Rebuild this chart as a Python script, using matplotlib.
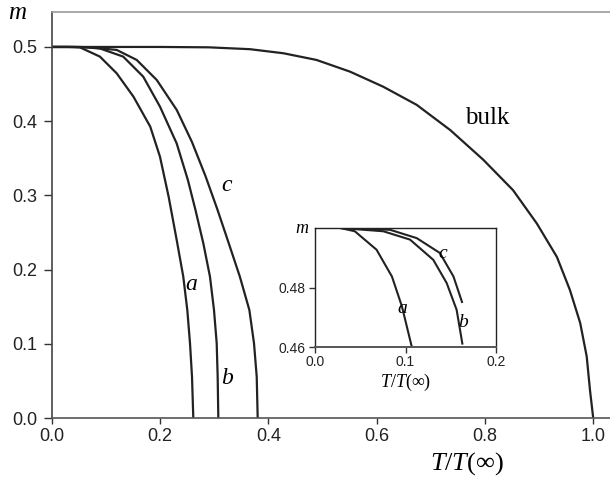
"""
Magnetisation m versus reduced temperature T/T(inf) for thin films a, b, c
and the bulk, with an inset showing the low-temperature region.
"""

import matplotlib
matplotlib.use("Agg")
import matplotlib.pyplot as plt

# ── Data ─────────────────────────────────────────────────────────────────────
bulk_T = [0.0, 0.20, 0.29, 0.366, 0.428, 0.489, 0.551, 0.612, 0.674, 0.736,
          0.797, 0.852, 0.896, 0.933, 0.957, 0.976, 0.988, 0.994, 1.0]
bulk_m = [0.5, 0.5, 0.4995, 0.497, 0.4915, 0.4825, 0.4667, 0.4465, 0.422, 0.388,
          0.348, 0.307, 0.262, 0.217, 0.1725, 0.128, 0.083, 0.038, 0.0]

a_T = [0.0, 0.03, 0.052, 0.089, 0.12, 0.151, 0.182, 0.2, 0.216, 0.2308,
       0.243, 0.2504, 0.2554, 0.2591, 0.2615]
a_m = [0.5, 0.5, 0.4995, 0.487, 0.4645, 0.433, 0.3926, 0.352, 0.298, 0.240,
       0.1904, 0.1456, 0.1007, 0.0557, 0.0]

b_T = [0.0, 0.04, 0.06, 0.089, 0.132, 0.169, 0.2, 0.2308, 0.2515, 0.2655,
       0.28, 0.2923, 0.2997, 0.3047, 0.3065, 0.3077]
b_m = [0.5, 0.5, 0.4995, 0.498, 0.487, 0.46, 0.4195, 0.370, 0.3207, 0.2803,
       0.2354, 0.1904, 0.1456, 0.1007, 0.0557, 0.0]

c_T = [0.0, 0.05, 0.07, 0.12, 0.157, 0.194, 0.231, 0.259, 0.284, 0.306,
       0.327, 0.3475, 0.365, 0.3736, 0.3786, 0.3804]
c_m = [0.5, 0.5, 0.4995, 0.496, 0.4825, 0.4555, 0.415, 0.372, 0.326, 0.281,
       0.2354, 0.1904, 0.1456, 0.1007, 0.0557, 0.0]

# inset (low temperature detail)
ia_T = [0.028, 0.044, 0.068, 0.085, 0.096, 0.107]
ia_m = [0.5, 0.4989, 0.4927, 0.4837, 0.4737, 0.46]
ib_T = [0.028, 0.0755, 0.105, 0.1307, 0.1455, 0.1565, 0.163]
ib_m = [0.5, 0.4989, 0.4961, 0.4893, 0.4815, 0.4725, 0.4608]
ic_T = [0.028, 0.0829, 0.1124, 0.138, 0.153, 0.1628]
ic_m = [0.5, 0.4994, 0.4966, 0.4916, 0.4837, 0.4748]

main_xticks = [0.0, 0.2, 0.4, 0.6, 0.8, 1.0]
main_yticks = [0.0, 0.1, 0.2, 0.3, 0.4, 0.5]
inset_xticks = [0.0, 0.1, 0.2]
inset_yticks = [0.46, 0.48]

# ── Style ────────────────────────────────────────────────────────────────────
LINE = "#222222"
SANS = "Liberation Sans"
SERIF = "Liberation Serif"
plt.rcParams["mathtext.fontset"] = "custom"
plt.rcParams["mathtext.rm"] = SERIF
plt.rcParams["mathtext.it"] = SERIF + ":italic"


def style_ticks(ax, size, xlen, xpad, ylen, ypad):
    ax.tick_params(direction="out", width=1, colors="#333333", labelsize=size)
    ax.tick_params(axis="x", length=xlen, pad=xpad)
    ax.tick_params(axis="y", length=ylen, pad=ypad)
    for lab in ax.get_xticklabels() + ax.get_yticklabels():
        lab.set_family(SANS)
        lab.set_color("#222222")


fig = plt.figure(figsize=(6.10, 4.94), dpi=100)

# ── Main axes ────────────────────────────────────────────────────────────────
ax = fig.add_axes([51.7 / 610, 76 / 494, 558.3 / 610, 405.7 / 494])
for T, m in [(bulk_T, bulk_m), (a_T, a_m), (b_T, b_m), (c_T, c_m)]:
    ax.plot(T, m, color=LINE, lw=1.6, solid_capstyle="butt",
            solid_joinstyle="round")

ax.set_xlim(0, 558.3 / 541.5)
ax.set_ylim(0, 0.5467)
ax.set_xticks(main_xticks)
ax.set_yticks(main_yticks)
ax.set_xticklabels([f"{v:.1f}" for v in main_xticks])
ax.set_yticklabels([f"{v:.1f}" for v in main_yticks])
style_ticks(ax, 13, 4.5, 3, 5.5, 5)
ax.spines["right"].set_visible(False)
ax.spines["top"].set_color("#999999")
ax.spines["left"].set_color("#444444")
ax.spines["bottom"].set_color("#555555")
for s in ax.spines.values():
    s.set_linewidth(1.2)

ax.text(0.804, 0.404, "bulk", family=SERIF, fontsize=18, ha="center", va="center")
ax.text(0.324, 0.315, "$c$", fontsize=17, ha="center", va="center")
ax.text(0.258, 0.182, "$a$", fontsize=17, ha="center", va="center")
ax.text(0.324, 0.055, "$b$", fontsize=17, ha="center", va="center")

fig.text(18 / 610, 1 - 12 / 494, "$m$", fontsize=18, ha="center", va="center")
fig.text(467 / 610, 1 - 464 / 494, r"$T/T(\infty)$", fontsize=19,
         ha="center", va="center")

# ── Inset ────────────────────────────────────────────────────────────────────
ins = fig.add_axes([315 / 610, 147 / 494, 181 / 610, 119 / 494])
for T, m in [(ia_T, ia_m), (ib_T, ib_m), (ic_T, ic_m)]:
    ins.plot(T, m, color=LINE, lw=1.5, solid_capstyle="butt",
             solid_joinstyle="round")
ins.set_xlim(0, 0.2)
ins.set_ylim(0.46, 0.50)
ins.set_xticks(inset_xticks)
ins.set_yticks(inset_yticks)
ins.set_xticklabels([f"{v:.1f}" for v in inset_xticks])
ins.set_yticklabels([f"{v:.2f}" for v in inset_yticks])
style_ticks(ins, 10, 4, 2, 4, 3)
for s in ins.spines.values():
    s.set_color("#222222")
    s.set_linewidth(1.0)
ins.spines["bottom"].set_color("#555555")
ins.spines["bottom"].set_linewidth(1.4)

ins.text(0.1414, 0.4916, "$c$", fontsize=14, ha="center", va="center")
ins.text(0.0962, 0.4734, "$a$", fontsize=14, ha="center", va="center")
ins.text(0.1641, 0.4686, "$b$", fontsize=14, ha="center", va="center")
fig.text(302 / 610, 1 - 228 / 494, "$m$", fontsize=13, ha="center", va="center")
fig.text(406 / 610, 1 - 382 / 494, r"$T/T(\infty)$", fontsize=13,
         ha="center", va="center")

fig.savefig("out.png", dpi=100)
